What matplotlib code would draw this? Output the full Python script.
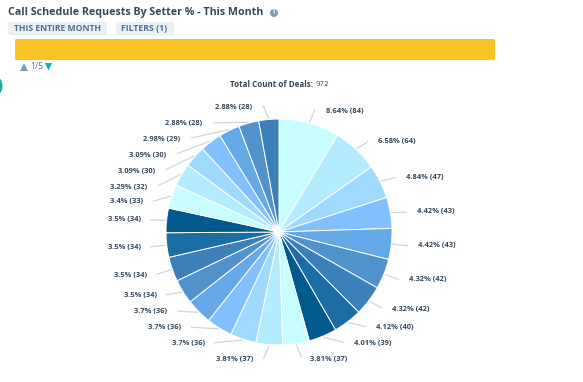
import numpy as np
import matplotlib
matplotlib.use("Agg")
import matplotlib.pyplot as plt
from matplotlib.patches import FancyBboxPatch, Circle, Polygon

plt.rcParams['font.family'] = ['Open Sans', 'DejaVu Sans']

counts = [84, 64, 47, 43, 43, 42, 42, 40, 39, 37, 37, 36, 36, 36, 34, 34, 34, 34, 33, 32, 30, 30, 29, 28, 28]
percents = ['8.64', '6.58', '4.84', '4.42', '4.42', '4.32', '4.32', '4.12', '4.01', '3.81', '3.81', '3.7', '3.7', '3.7',
            '3.5', '3.5', '3.5', '3.5', '3.4', '3.29', '3.09', '3.09', '2.98', '2.88', '2.88']
palette = ['#c8fdff', '#b3ebff', '#9ed9ff', '#81bfff', '#64a8e8', '#5192cd', '#3b80b9', '#1b6da3', '#005a8d']
label_xy = [(345, 112), (397, 141), (425, 177), (436, 212), (437, 246), (428, 280), (411, 309), (395, 327), (373, 343),
            (329, 359), (235, 359), (188, 343), (165, 327), (151, 311), (140, 295), (130, 275), (124, 247), (124, 220),
            (127, 202), (129, 187), (137, 171), (148, 155), (162, 139), (184, 123), (234, 107)]

TXT = '#33475b'
H = 382
fig = plt.figure(figsize=(5.83, 3.82), dpi=100)
ax = fig.add_axes([0, 0, 1, 1])
Y = lambda p: H - p

cx, cy, R = 279, 232, 113
colors = [palette[i % len(palette)] for i in range(len(counts))]
ax.pie(counts, center=(cx, Y(cy)), radius=R, startangle=90, counterclock=False, colors=colors,
       wedgeprops=dict(edgecolor='white', linewidth=0.7), frame=True)
ax.set_xlim(0, 583)
ax.set_ylim(0, H)
ax.set_aspect('equal')
ax.axis('off')

# labels and connectors
cum = np.cumsum([0] + counts)
total = cum[-1]
for i, (c, pct, (lx, ly)) in enumerate(zip(counts, percents, label_xy)):
    a = 2 * np.pi * (cum[i] + c / 2) / total
    sx, sy = cx + (R + 1) * np.sin(a), cy - (R + 1) * np.cos(a)
    ax.text(lx, Y(ly), f'{pct}% ({c})', ha='center', va='center', fontsize=5.4, fontweight='bold', color=TXT)
    halfw = 19 if len(pct) > 3 else 16
    if abs(lx - cx) < 70:
        ex = sx + np.sign(sx - cx) * 5.5
        ey = sy + np.sign(sy - cy) * 13
    else:
        ex = lx - np.sign(lx - cx) * (halfw + 10)
        ey = ly + (sy - ly) * 0.1
    ax.plot([sx, ex], [Y(sy), Y(ey)], color='#cbd6e2', lw=0.9, solid_capstyle='butt')

ax.text(230, Y(84.5), 'Total Count of Deals:', ha='left', va='center', fontsize=5.8, fontweight='bold', color=TXT)
ax.text(316, Y(84.5), '972', ha='left', va='center', fontsize=5.8, color=TXT)

# header
ax.text(8, Y(12.5), 'Call Schedule Requests By Setter % - This Month', ha='left', va='center', fontsize=7.7,
        fontweight='bold', color=TXT)
ax.add_patch(Circle((274, Y(13)), 4, color='#7c98b6', lw=0))
ax.text(274, Y(13), 'i', ha='center', va='center', fontsize=5, color='white', fontweight='bold')


def box(x0, y0, x1, y1, fc, rad=2):
    ax.add_patch(FancyBboxPatch((x0 + rad, Y(y1) + rad), x1 - x0 - 2 * rad, y1 - y0 - 2 * rad,
                                boxstyle=f'round,pad={rad},rounding_size={rad}', fc=fc, ec='none'))


box(8, 22, 107, 35, '#eaf0f6')
box(116, 22, 174, 35, '#eaf0f6')
ax.text(14, Y(28.5), 'THIS ENTIRE MONTH', ha='left', va='center', fontsize=6.2, fontweight='bold', color='#516f90')
ax.text(121, Y(28.5), 'FILTERS (1)', ha='left', va='center', fontsize=6.3, fontweight='bold', color='#516f90')
box(15, 39, 495, 60, '#f9c226', rad=1.5)

ax.add_patch(Polygon([(20, Y(71)), (28, Y(71)), (24, Y(63))], fc='#7c98b6', ec='none'))
ax.add_patch(Polygon([(45, Y(63)), (52, Y(63)), (48.5, Y(70.5))], fc='#14aeaa', ec='none'))
ax.text(30, Y(66.5), '1/5', ha='left', va='center', fontsize=6.2, color='#516f90')

ax.add_patch(Circle((-10, Y(86)), 12.5, color='#14aeaa', lw=0))

fig.savefig('out.png', dpi=100)
